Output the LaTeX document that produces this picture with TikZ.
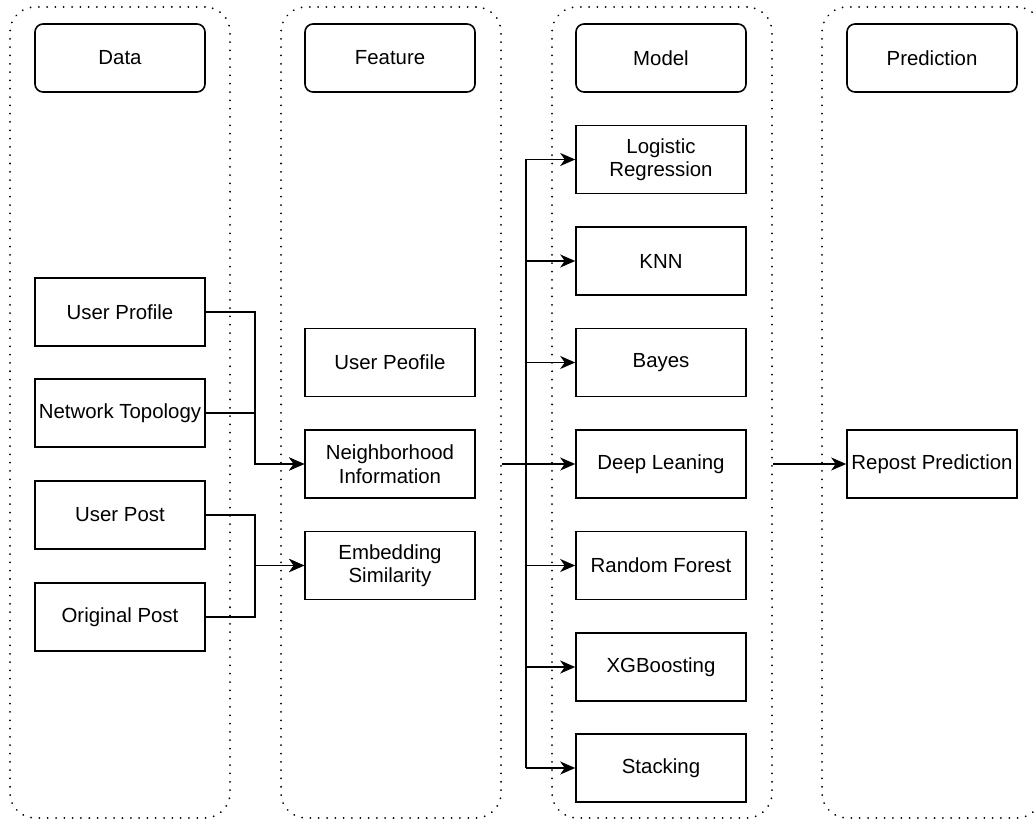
\documentclass[tikz,border=0pt]{standalone}
\usepackage{fontspec}
\setmainfont{Liberation Sans}
\usetikzlibrary{arrows.meta,calc}
\begin{document}
\begin{tikzpicture}[x=1pt,y=-1pt,
  font=\fontsize{20.4}{23.5}\selectfont,
  lane/.style={draw, line width=2pt, line cap=round, dash pattern=on 0.01pt off 8.3pt,
    rounded corners=25pt, minimum width=220pt, minimum height=811pt, inner sep=0pt},
  box/.style={draw, line width=1.6pt, minimum width=170pt, minimum height=68pt,
    inner sep=0pt, align=center},
  header/.style={box, rounded corners=8pt},
  conn/.style={line width=1.6pt},
  arr/.style={conn, -{Stealth[length=15pt,width=13pt,inset=4.5pt]}}
]
\useasboundingbox (0,0) rectangle (1034,821);
\clip (0,0) rectangle (1034,821);

% lanes
\node[lane] (Ldata)  at (120,412.5) {};
\node[lane] (Lfeat)  at (391,412.5) {};
\node[lane] (Lmodel) at (662,412.5) {};
\node[lane] (Lpred)  at (932,412.5) {};

% headers
\node[header] (Hdata)  at (120,58) {Data};
\node[header] (Hfeat)  at (390,58) {Feature};
\node[header] (Hmodel) at (661,58) {Model};
\node[header] (Hpred)  at (932,58) {Prediction};

% data
\node[box] (UP) at (120,312) {User Profile};
\node[box] (NT) at (120,413) {Network Topology};
\node[box] (UPo) at (120,515) {User Post};
\node[box] (OP) at (120,617) {Original Post};

% features
\node[box] (FUP) at (390,362.5) {User Peofile};
\node[box] (NI)  at (390,464) {Neighborhood\\Information};
\node[box] (ES)  at (390,565.5) {Embedding\\Similarity};

% models
\node[box] (LR) at (661,159.5) {Logistic\\Regression};
\node[box] (KNN) at (661,261) {KNN};
\node[box] (BA) at (661,362.5) {Bayes};
\node[box] (DL) at (661,464) {Deep Leaning};
\node[box] (RF) at (661,565.5) {Random Forest};
\node[box] (XG) at (661,667) {XGBoosting};
\node[box] (ST) at (661,768) {Stacking};

% prediction
\node[box] (RP) at (932,464) {Repost Prediction};

% coordinates
\coordinate (dbus) at (255,0);
\coordinate (mbus) at (526,0);

% data -> feature
\draw[arr] (UP.east) -| (dbus |- NI.west) -- (NI.west);
\draw[arr] (NT.east) -| (dbus |- NI.west) -- (NI.west);
\draw[arr] (UPo.east) -| (dbus |- ES.west) -- (ES.west);
\draw[arr] (OP.east) -| (dbus |- ES.west) -- (ES.west);

% feature -> models
\coordinate (fout) at (Lfeat.east |- NI.east);
\draw[conn] (fout) -- (mbus |- NI.east);
\draw[conn] (mbus |- LR.west) -- (mbus |- ST.west);
\foreach \m in {LR,KNN,BA,DL,RF,XG,ST}
  \draw[arr] (mbus |- \m.west) -- (\m.west);

% model -> prediction
\coordinate (mout) at (Lmodel.east |- DL.east);
\draw[arr] (mout) -- (RP.west);
\end{tikzpicture}
\end{document}
